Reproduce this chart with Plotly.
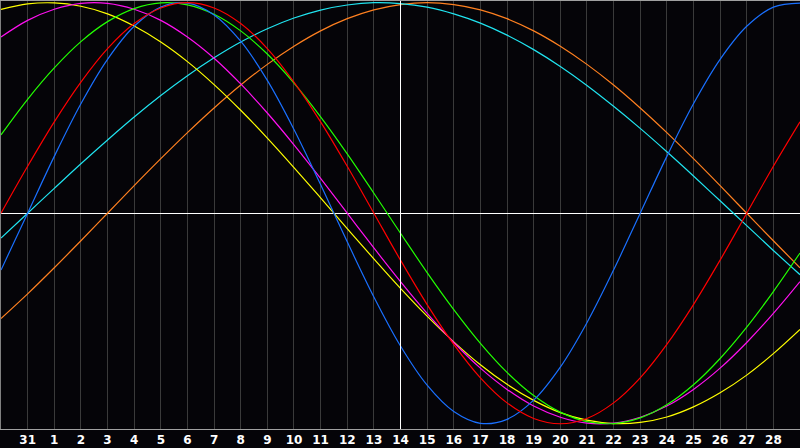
import plotly.graph_objects as go

# day labels under the grid lines (first and last column unlabelled)
days = ['30', '31'] + [str(d) for d in range(1, 30)]
labels = [''] + days[1:30] + ['']
x = list(range(len(days)))

# biorhythm values, one per day
physical = [-0.270, 0, 0.270, 0.520, 0.731, 0.888, 0.979, 0.998, 0.942, 0.817, 0.631, 0.398, 0.136, -0.136,
            -0.398, -0.631, -0.817, -0.942, -0.998, -0.979, -0.888, -0.731, -0.520, -0.270, 0, 0.270,
            0.520, 0.731, 0.888, 0.979, 0.998]
emotional = [0, 0.223, 0.434, 0.623, 0.782, 0.901, 0.975, 1.0, 0.975, 0.901, 0.782, 0.623, 0.434, 0.223, 0,
             -0.223, -0.434, -0.623, -0.782, -0.901, -0.975, -1.0, -0.975, -0.901, -0.782, -0.623, -0.434,
             -0.223, 0, 0.223, 0.434]
intellectual = [0.372, 0.541, 0.690, 0.815, 0.910, 0.972, 0.999, 0.990, 0.945, 0.866, 0.756, 0.618, 0.458,
                0.282, 0.095, -0.095, -0.282, -0.458, -0.618, -0.756, -0.866, -0.945, -0.990, -0.999,
                -0.972, -0.910, -0.815, -0.690, -0.541, -0.372, -0.189]
intuitive = [0.837, 0.916, 0.969, 0.997, 0.997, 0.969, 0.916, 0.837, 0.736, 0.614, 0.476, 0.325, 0.165, 0,
             -0.165, -0.325, -0.476, -0.614, -0.736, -0.837, -0.916, -0.969, -0.997, -0.997, -0.969, -0.916,
             -0.837, -0.736, -0.614, -0.476, -0.325]
aesthetic = [0.968, 0.994, 0.999, 0.983, 0.947, 0.889, 0.813, 0.720, 0.611, 0.489, 0.357, 0.217, 0.073,
             -0.073, -0.217, -0.357, -0.489, -0.611, -0.720, -0.813, -0.889, -0.947, -0.983, -0.999,
             -0.994, -0.968, -0.920, -0.853, -0.769, -0.667, -0.552]
awareness = [-0.5, -0.383, -0.259, -0.131, 0, 0.131, 0.259, 0.383, 0.5, 0.609, 0.707, 0.793, 0.866, 0.924,
             0.966, 0.991, 1.0, 0.991, 0.966, 0.924, 0.866, 0.793, 0.707, 0.609, 0.5, 0.383, 0.259, 0.131,
             0, -0.131, -0.259]
spiritual = [-0.118, 0, 0.118, 0.235, 0.348, 0.457, 0.559, 0.653, 0.738, 0.813, 0.876, 0.927, 0.965, 0.989,
             1.0, 0.996, 0.979, 0.947, 0.903, 0.846, 0.777, 0.697, 0.607, 0.508, 0.403, 0.292, 0.177, 0.059,
             -0.059, -0.177, -0.292]
today = 15

series = [
    ('Awareness', awareness, '#ff8020'),
    ('Spiritual', spiritual, '#20e4f0'),
    ('Aesthetic', aesthetic, '#ffff00'),
    ('Intuitive', intuitive, '#ff10f0'),
    ('Intellectual', intellectual, '#22ff00'),
    ('Physical', physical, '#1a70ff'),
    ('Emotional', emotional, '#ff0000'),
]

fig = go.Figure()
for name, vals, col in series:
    fig.add_trace(go.Scatter(x=x, y=vals, name=name, mode='lines',
                             line=dict(color=col, width=1.2, shape='spline', smoothing=1)))

# today marker, drawn on top so the grid line doesn't hide it
fig.add_shape(type='line', x0=today, x1=today, y0=0, y1=1, yref='paper',
              line=dict(color='white', width=1), layer='above')

fig.update_xaxes(range=[0, 30], tickvals=x, ticktext=labels, showgrid=True,
                 gridcolor='#3a3a3a', gridwidth=1, zeroline=False,
                 showline=True, linecolor='#a0a0a0', linewidth=1, mirror=True,
                 tickfont=dict(family='DejaVu Sans', size=12, color='white', weight='bold'))
fig.update_yaxes(range=[-1.025, 1.008], showgrid=False, showticklabels=False,
                 zeroline=True, zerolinecolor='white', zerolinewidth=1,
                 showline=True, linecolor='#808080', linewidth=1)

fig.update_layout(width=800, height=448, showlegend=False,
                  margin=dict(l=1, r=0, t=1, b=19),
                  paper_bgcolor='#050408', plot_bgcolor='#050408')

# page body has a default 8px margin, drop it so the chart fills the window
fig.write_html("out.html", config={'displayModeBar': False},
               post_script="document.body.style.margin='0';document.body.style.background='#050408';")
